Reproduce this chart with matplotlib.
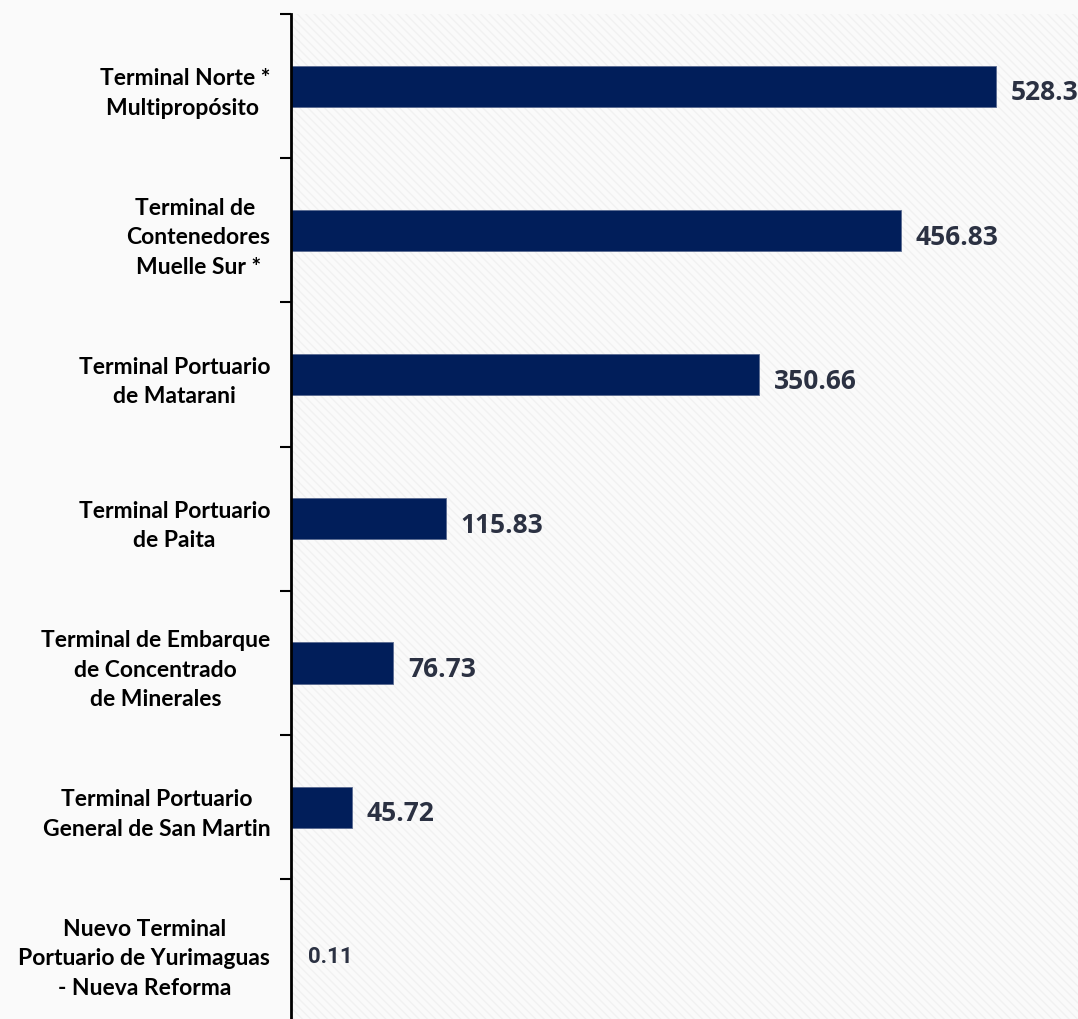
import numpy as np
import matplotlib.pyplot as plt
from matplotlib.ticker import FixedLocator

# datos (de arriba hacia abajo)
terminales = ["Terminal Norte *\nMultipropósito ",
              "Terminal de \nContenedores\nMuelle Sur *",
              "Terminal Portuario\nde Matarani",
              "Terminal Portuario\nde Paita",
              "Terminal de Embarque\nde Concentrado\nde Minerales",
              "Terminal Portuario\nGeneral de San Martin",
              "Nuevo Terminal\nPortuario de Yurimaguas\n- Nueva Reforma"]
valores = [528.3, 456.83, 350.66, 115.83, 76.73, 45.72, 0.11]
etiquetas = ["528.3", "456.83", "350.66", "115.83", "76.73", "45.72", "0.11"]

plt.rcParams['hatch.color'] = '#f1f1f1'
plt.rcParams['hatch.linewidth'] = 1.0

fig = plt.figure(figsize=(10.78, 10.2), dpi=100, facecolor='#fafafa')
ax = fig.add_axes([291/1078, -4.5/1020, 787/1078, 1009.5/1020])
ax.set_facecolor('#fafafa')
ax.patch.set_hatch('\\\\\\\\')
ax.patch.set_edgecolor('#f1f1f1')
ax.patch.set_linewidth(0)

y = np.arange(len(terminales))
ax.barh(y, valores, height=0.285, color='#011e5a', edgecolor='#5a6a90', linewidth=0.6, zorder=2)

ax.set_xlim(0, 589.7)
ax.set_ylim(len(terminales) - 0.5, -0.5)

for yi, v, t in zip(y, valores, etiquetas):
    if v < 1:
        ax.text(v + 13, yi + 0.03, t, va='center', ha='left', fontsize=16,
                fontweight='bold', family='Roboto', color='#2b3142')
    else:
        ax.text(v + 11, yi + 0.04, t, va='center', ha='left', fontsize=19,
                fontweight='bold', family='Open Sans', color='#2b3142')

# etiquetas de categorias
ax.set_yticks(y)
ax.set_yticklabels(terminales, fontsize=16.5, fontweight='bold', family='Lato',
                   color='#000000', linespacing=1.5)
for lab in ax.get_yticklabels():
    lab.set_multialignment('center')
ax.tick_params(axis='y', which='major', length=0, pad=15)
ax.yaxis.set_minor_locator(FixedLocator(np.arange(-0.5, len(terminales), 1)))
ax.tick_params(axis='y', which='minor', length=8, width=1.5, color='black')

ax.set_xticks([])
for s in ['top', 'right', 'bottom']:
    ax.spines[s].set_visible(False)
ax.spines['left'].set_linewidth(2)

fig.savefig('out.png', dpi=100, facecolor=fig.get_facecolor())
